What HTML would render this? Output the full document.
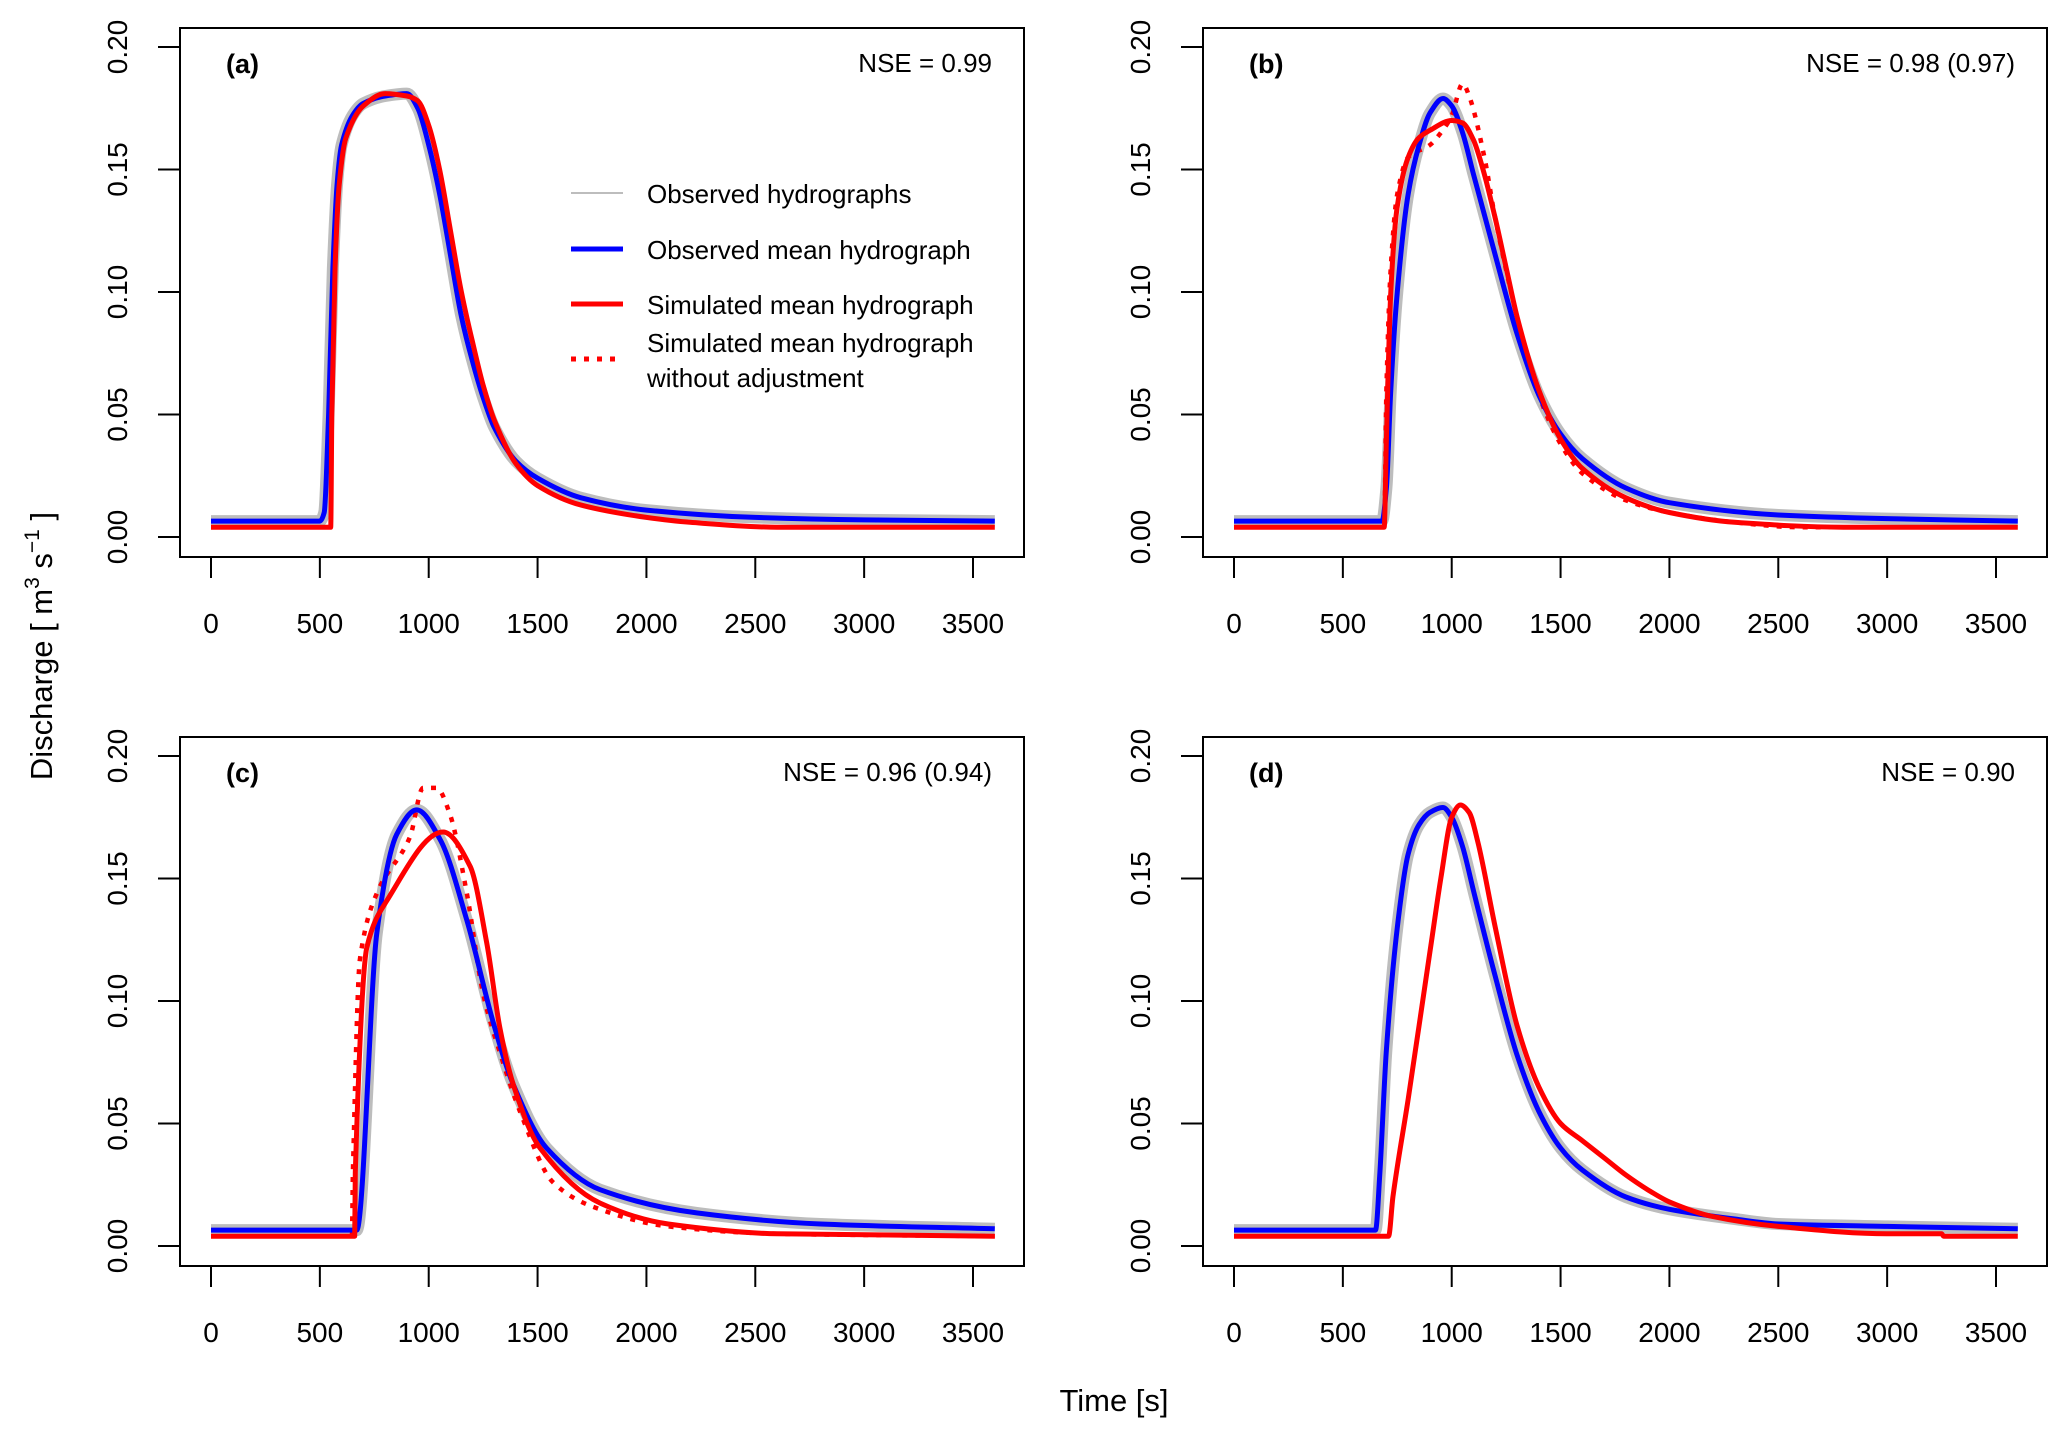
<!DOCTYPE html>
<html><head><meta charset="utf-8">
<style>
html,body{margin:0;padding:0;background:#fff;}
svg{display:block;font-family:"Liberation Sans",Arial,sans-serif;}
</style></head>
<body>
<svg id="chart" width="2067" height="1437" viewBox="0 0 2067 1437" xmlns="http://www.w3.org/2000/svg">
<rect width="2067" height="1437" fill="#fff"/>
<text x="1114" y="1411" font-size="31" text-anchor="middle">Time [s]</text>
<text transform="translate(52,646) rotate(-90)" font-size="31" text-anchor="middle">Discharge [ m<tspan font-size="21" dy="-13">3</tspan><tspan dy="13"> s</tspan><tspan font-size="21" dy="-13">−1</tspan><tspan dy="13"> ]</tspan></text>
</svg>
<script>
const xTicks=[0,500,1000,1500,2000,2500,3000,3500];
const yTicks=[0,0.05,0.10,0.15,0.20];
const yTickLabels=["0.00","0.05","0.10","0.15","0.20"];
const panelLabels=["(a)","(b)","(c)","(d)"];
const nseLabels=["NSE = 0.99","NSE = 0.98 (0.97)","NSE = 0.96 (0.94)","NSE = 0.90"];

const aObsT=[0,500,520,540,560,580,600,650,700,800,900,950,1000,1050,1100,1150,1200,1250,1300,1400,1500,1700,2000,2500,3000,3600];
const aObsV=[.0065,.0065,.01,.05,.11,.145,.16,.172,.177,.18,.181,.175,.16,.14,.115,.09,.072,.057,.045,.031,.024,.016,.011,.008,.007,.0065];
const aSimT=[0,550,555,570,590,620,700,800,900,950,1000,1050,1100,1150,1200,1250,1300,1400,1500,1700,2000,2200,2600,3600];
const aSimV=[.004,.004,.05,.11,.145,.163,.176,.181,.18,.178,.168,.15,.125,.1,.08,.062,.048,.03,.021,.013,.008,.006,.004,.004];

const bObsT=[0,680,700,720,750,800,850,900,960,1000,1050,1100,1200,1300,1400,1500,1600,1800,2000,2500,3000,3600];
const bObsV=[.0065,.0065,.02,.06,.1,.14,.16,.173,.179,.176,.165,.148,.115,.083,.058,.042,.032,.02,.014,.009,.0075,.0065];
const bSimT=[0,690,700,720,750,800,850,900,1000,1050,1100,1150,1200,1250,1300,1400,1500,1600,1800,2000,2300,2800,3600];
const bSimV=[.004,.004,.04,.1,.135,.155,.163,.166,.17,.169,.162,.148,.13,.11,.09,.06,.04,.028,.016,.01,.006,.004,.004];
const bDotT=[0,690,700,720,750,800,900,950,1000,1050,1080,1150,1200,1300,1400,1500,1600,1800,2000,2300,2600,3600];
const bDotV=[.004,.004,.06,.11,.14,.155,.16,.165,.172,.185,.18,.155,.13,.09,.058,.038,.026,.015,.01,.006,.004,.004];

const cObsT=[0,670,676,762,853,945,1052,1175,1297,1388,1541,1787,2231,2800,3600];
const cObsV=[.0065,.0065,.008,.128,.168,.178,.166,.133,.091,.066,.040,.023,.0135,.009,.007];
const cSimT=[0,660,663,716,808,1066,1190,1266,1327,1388,1511,1787,2100,2600,3600];
const cSimV=[.004,.004,.03,.122,.141,.169,.155,.124,.089,.066,.040,.0175,.009,.005,.004];
const cDotT=[0,647,652,684,762,914,974,1036,1098,1175,1250,1327,1419,1571,1755,2100,2600,3600];
const cDotV=[.004,.004,.03,.117,.144,.167,.187,.187,.176,.144,.103,.079,.055,.026,.016,.008,.005,.004];

const dObsT=[0,650,670,700,750,800,850,900,960,1000,1050,1100,1200,1300,1400,1500,1600,1800,2000,2300,2500,3000,3600];
const dObsV=[.0065,.0065,.03,.08,.13,.16,.172,.177,.179,.175,.163,.145,.11,.078,.055,.04,.031,.02,.015,.011,.009,.008,.007];
const dSimT=[0,710,730,800,850,900,950,1000,1040,1080,1120,1200,1300,1400,1500,1600,1700,1800,1900,2000,2200,2500,3000,3250,3260,3600];
const dSimV=[.004,.004,.02,.06,.09,.12,.15,.175,.18,.177,.165,.13,.09,.065,.05,.043,.036,.029,.023,.018,.012,.008,.005,.005,.004,.004];

const panels=[
 {ox:0,oy:0,obs:[aObsT,aObsV],sim:[aSimT,aSimV],dot:null,legend:true},
 {ox:1023,oy:0,obs:[bObsT,bObsV],sim:[bSimT,bSimV],dot:[bDotT,bDotV]},
 {ox:0,oy:709,obs:[cObsT,cObsV],sim:[cSimT,cSimV],dot:[cDotT,cDotV]},
 {ox:1023,oy:709,obs:[dObsT,dObsV],sim:[dSimT,dSimV],dot:null}
];
const svg=document.getElementById('chart');
const NS='http://www.w3.org/2000/svg';
function mk(tag,attrs,parent,txt){const e=document.createElementNS(NS,tag);for(const k in attrs)e.setAttribute(k,attrs[k]);if(txt!=null)e.textContent=txt;(parent||svg).appendChild(e);return e;}
// monotone cubic path through pixel points
function monoPath(X,Y){
 const n=X.length;if(n<2)return '';
 const d=[],m=new Array(n);
 for(let i=0;i<n-1;i++)d.push((Y[i+1]-Y[i])/((X[i+1]-X[i])||1e-6));
 m[0]=d[0];m[n-1]=d[n-2];
 for(let i=1;i<n-1;i++){m[i]=(d[i-1]*d[i]<=0)?0:2/(1/d[i-1]+1/d[i]);}
 let s='M'+X[0].toFixed(1)+','+Y[0].toFixed(1);
 for(let i=0;i<n-1;i++){const h=(X[i+1]-X[i])/3;
  s+=' C'+(X[i]+h).toFixed(1)+','+(Y[i]+m[i]*h).toFixed(1)+' '+(X[i+1]-h).toFixed(1)+','+(Y[i+1]-m[i+1]*h).toFixed(1)+' '+X[i+1].toFixed(1)+','+Y[i+1].toFixed(1);}
 return s;
}

panels.forEach((p,i)=>{
 const g=mk('g',{});
 
 
 const sx=t=>p.ox+211+(t/3500)*(973-211);
 const sy=v=>p.oy+537-(v/0.2)*(537-47);
 const path=(T,V)=>monoPath(T.map(sx),V.map(sy));
 const clip=mk('clipPath',{id:'clip'+i},g);
 mk('rect',{x:p.ox+181,y:p.oy+29,width:842,height:527},clip);
 const plot=mk('g',{'clip-path':'url(#clip'+i+')'},g);
 const band=mk('path',{d:path(p.obs[0],p.obs[1]),fill:'none',stroke:'#bdbdbd','stroke-width':12,'stroke-linejoin':'round'},plot);
 
 
 if(p.dot){const d=mk('path',{d:path(p.dot[0],p.dot[1]),fill:'none',stroke:'#ff0000','stroke-width':4.5,'stroke-dasharray':'5 8'},plot);
  
  }
 const ob=mk('path',{d:path(p.obs[0],p.obs[1]),fill:'none',stroke:'#0000ff','stroke-width':5,'stroke-linejoin':'round'},plot);
 
 
 const sm=mk('path',{d:path(p.sim[0],p.sim[1]),fill:'none',stroke:'#ff0000','stroke-width':5,'stroke-linejoin':'round'},plot);
 
 
 const box=mk('rect',{x:p.ox+180,y:p.oy+28,width:844,height:529,fill:'none',stroke:'#000','stroke-width':2},g);
 
 
 xTicks.forEach(t=>{
  mk('line',{x1:sx(t),x2:sx(t),y1:p.oy+557,y2:p.oy+578,stroke:'#000','stroke-width':2},g);
  const l=mk('text',{x:sx(t),y:p.oy+633,'font-size':28,'text-anchor':'middle'},g,String(t));
  
  
 });
 yTicks.forEach((v,k)=>{
  mk('line',{x1:p.ox+158,x2:p.ox+180,y1:sy(v),y2:sy(v),stroke:'#000','stroke-width':2},g);
  const l=mk('text',{transform:'translate('+(p.ox+127)+','+sy(v)+') rotate(-90)','font-size':28,'text-anchor':'middle'},g,yTickLabels[k]);
  
  
 });
 const pl=mk('text',{x:p.ox+226,y:p.oy+73,'font-size':27,'font-weight':'bold'},g,panelLabels[i]);
 
 
 const ns=mk('text',{x:p.ox+992,y:p.oy+72,'font-size':26,'text-anchor':'end'},g,nseLabels[i]);
 
 
 if(p.legend){
  const lg=mk('g',{},g);
  
  
  mk('line',{x1:571,x2:623,y1:193,y2:193,stroke:'#bdbdbd','stroke-width':2},lg);
  mk('line',{x1:571,x2:623,y1:249,y2:249,stroke:'#0000ff','stroke-width':5},lg);
  mk('line',{x1:571,x2:623,y1:304,y2:304,stroke:'#ff0000','stroke-width':5},lg);
  mk('line',{x1:571,x2:623,y1:359,y2:359,stroke:'#ff0000','stroke-width':5,'stroke-dasharray':'5 8'},lg);
  const rows=[["Observed hydrographs",203],["Observed mean hydrograph",259],["Simulated mean hydrograph",314],["Simulated mean hydrograph",352],["without adjustment",387]];
  rows.forEach(r=>{const t=mk('text',{x:647,y:r[1],'font-size':26},lg,r[0]);
   
   });
 }
});
</script>
</body></html>
